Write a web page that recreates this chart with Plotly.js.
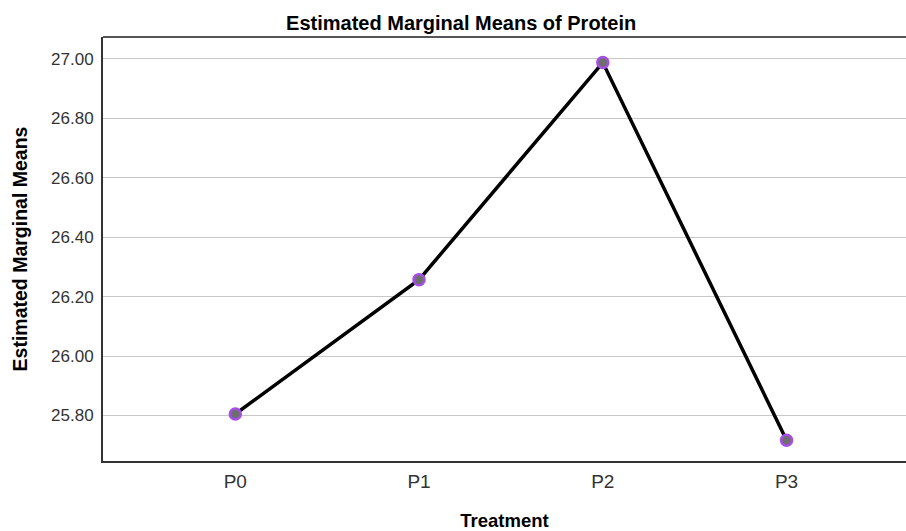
<!DOCTYPE html>
<html><head><meta charset="utf-8">
<script src="https://cdn.plot.ly/plotly-3.0.1.min.js"></script>
<style>html,body{margin:0;padding:0;background:#fff}#chart{width:906px;height:531px}</style>
</head><body><div id="chart"></div>
<script>
const categories = ["P0", "P1", "P2", "P3"];
const means = [25.805, 26.257, 26.987, 25.717];
const yTicks = [25.80, 26.00, 26.20, 26.40, 26.60, 26.80, 27.00];

const xIdx = categories.map((c, i) => i);
const trace = {
  x: xIdx, y: means, type: "scatter", mode: "lines+markers",
  line: {color: "#000000", width: 3.5},
  marker: {size: 11, color: "#6e6e6e", line: {color: "#a64ee8", width: 2.5}},
  hoverinfo: "skip"
};
const layout = {
  width: 906, height: 531,
  margin: {l: 103, r: 0, t: 37, b: 70},
  paper_bgcolor: "#ffffff", plot_bgcolor: "#ffffff",
  showlegend: false,
  font: {family: "Liberation Sans, Arial, sans-serif", color: "#333333", size: 13},
  title: {text: "<b>Estimated Marginal Means of Protein</b>", x: 0.509, xanchor: "center", y: 0.969, yanchor: "top",
          font: {size: 20, color: "#000000", family: "Liberation Sans, Arial, sans-serif"}},
  xaxis: {
    range: [-0.72, 3.65], tickvals: xIdx, ticktext: categories,
    showgrid: false, zeroline: false, showline: true, linecolor: "#333333", linewidth: 2,
    ticks: "", tickfont: {size: 19, color: "#333333"}, ticklabelstandoff: 2,
    title: {text: "<b>Treatment</b>", standoff: 29, font: {size: 18.5, color: "#000000"}}
  },
  yaxis: {
    range: [25.647, 27.073], tickvals: yTicks, ticktext: yTicks.map(v => v.toFixed(2)),
    showgrid: true, gridcolor: "#c8c8c8", gridwidth: 1, zeroline: false,
    showline: true, linecolor: "#333333", linewidth: 2, ticks: "",
    tickfont: {size: 17, color: "#333333"}, ticklabelstandoff: 4,
    title: {text: "<b>Estimated Marginal Means</b>", standoff: 18, font: {size: 19.5, color: "#000000"}}
  },
  shapes: [{type: "line", xref: "paper", yref: "paper", x0: 0, x1: 1, y0: 1, y1: 1,
            line: {color: "#555555", width: 2}}]
};
Plotly.newPlot("chart", [trace], layout, {displayModeBar: false, staticPlot: true});
</script></body></html>
